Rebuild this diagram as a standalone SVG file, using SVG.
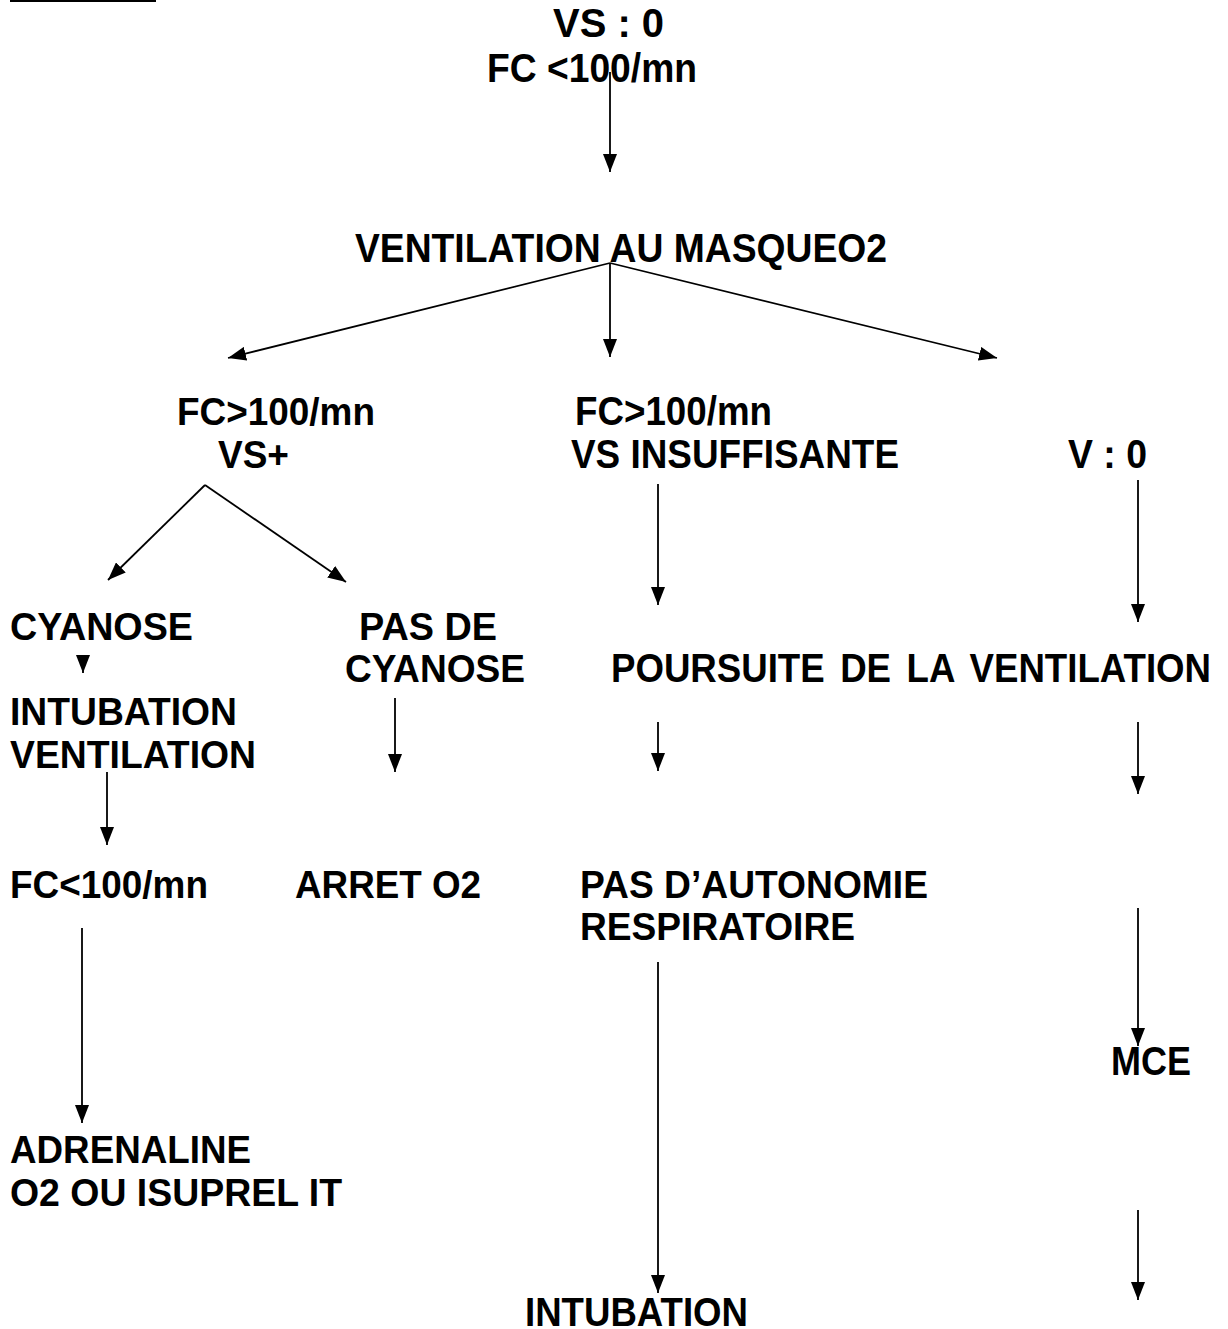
<svg xmlns="http://www.w3.org/2000/svg" width="1228" height="1329" viewBox="0 0 1228 1329">
<style>
  text { font-family: "Liberation Sans", Arial, sans-serif; font-weight: bold; fill: #000; }
  .n { font-size: 39px; }
  .c { font-size: 41px; }
  .ln { stroke: #000; stroke-width: 1.8; fill: none; marker-end: url(#ah); }
</style>
<defs>
  <marker id="ah" markerUnits="userSpaceOnUse" markerWidth="19" markerHeight="14" refX="18" refY="7" orient="auto">
    <path d="M0,0 L18,7 L0,14 z" fill="#000"/>
  </marker>
</defs>
<rect width="1228" height="1329" fill="#fff"/>
<rect x="10" y="0" width="146" height="2" fill="#000"/>

<g id="connectors">
  <line class="ln" x1="610" y1="72" x2="610" y2="172"/>
  <line class="ln" x1="610" y1="263" x2="228" y2="358"/>
  <line class="ln" x1="610" y1="263" x2="610" y2="357"/>
  <line class="ln" x1="610" y1="263" x2="997" y2="358"/>
  <line class="ln" x1="205" y1="485" x2="108" y2="580"/>
  <line class="ln" x1="205" y1="485" x2="346" y2="582"/>
  <line class="ln" x1="83" y1="655" x2="83" y2="673"/>
  <line class="ln" x1="107" y1="772" x2="107" y2="845"/>
  <line class="ln" x1="395" y1="698" x2="395" y2="772"/>
  <line class="ln" x1="658" y1="484" x2="658" y2="605"/>
  <line class="ln" x1="658" y1="722" x2="658" y2="771"/>
  <line class="ln" x1="1138" y1="480" x2="1138" y2="622"/>
  <line class="ln" x1="1138" y1="722" x2="1138" y2="794"/>
  <line class="ln" x1="82" y1="928" x2="82" y2="1123"/>
  <line class="ln" x1="658" y1="962" x2="658" y2="1293"/>
  <line class="ln" x1="1138" y1="908" x2="1138" y2="1046"/>
  <line class="ln" x1="1138" y1="1210" x2="1138" y2="1300"/>
</g>

<g id="n-top"><text class="c" x="553" y="37" textLength="111" lengthAdjust="spacingAndGlyphs">VS : 0</text>
<text class="c" x="487" y="82" textLength="210" lengthAdjust="spacingAndGlyphs">FC &lt;100/mn</text></g>
<g id="n-ventil"><text class="c" x="355" y="262" textLength="532" lengthAdjust="spacingAndGlyphs">VENTILATION AU MASQUEO2</text></g>
<g id="n-vsplus"><text class="n" x="177" y="425" textLength="198" lengthAdjust="spacingAndGlyphs">FC&gt;100/mn</text>
<text class="n" x="218" y="468" textLength="71" lengthAdjust="spacingAndGlyphs">VS+</text></g>
<g id="n-vsinsuf"><text class="c" x="575" y="425" textLength="197" lengthAdjust="spacingAndGlyphs">FC&gt;100/mn</text>
<text class="c" x="571" y="468" textLength="328" lengthAdjust="spacingAndGlyphs">VS INSUFFISANTE</text></g>
<g id="n-v0"><text class="c" x="1068" y="468" textLength="79" lengthAdjust="spacingAndGlyphs">V : 0</text></g>
<g id="n-cyanose"><text class="n" x="10" y="640" textLength="183" lengthAdjust="spacingAndGlyphs">CYANOSE</text></g>
<g id="n-pasdecyanose"><text class="n" x="359" y="640" textLength="138" lengthAdjust="spacingAndGlyphs">PAS DE</text>
<text class="n" x="345" y="682" textLength="180" lengthAdjust="spacingAndGlyphs">CYANOSE</text></g>
<g id="n-intubventil"><text class="n" x="10" y="725" textLength="227" lengthAdjust="spacingAndGlyphs">INTUBATION</text>
<text class="n" x="10" y="768" textLength="246" lengthAdjust="spacingAndGlyphs">VENTILATION</text></g>
<g id="n-poursuite"><text class="c" x="611" y="682" textLength="600" lengthAdjust="spacingAndGlyphs" word-spacing="6">POURSUITE DE LA VENTILATION</text></g>
<g id="n-fc100"><text class="n" x="10" y="898" textLength="198" lengthAdjust="spacingAndGlyphs">FC&lt;100/mn</text></g>
<g id="n-arret"><text class="n" x="295" y="898" textLength="186" lengthAdjust="spacingAndGlyphs">ARRET O2</text></g>
<g id="n-pasauto"><text class="n" x="580" y="898" textLength="348" lengthAdjust="spacingAndGlyphs">PAS D’AUTONOMIE</text>
<text class="n" x="580" y="940" textLength="275" lengthAdjust="spacingAndGlyphs">RESPIRATOIRE</text></g>
<g id="n-mce"><text class="c" x="1111" y="1075" textLength="80" lengthAdjust="spacingAndGlyphs">MCE</text></g>
<g id="n-adrenaline"><text class="n" x="10" y="1163" textLength="241" lengthAdjust="spacingAndGlyphs">ADRENALINE</text>
<text class="n" x="10" y="1206" textLength="332" lengthAdjust="spacingAndGlyphs">O2 OU ISUPREL IT</text></g>
<g id="n-intubation"><text class="c" x="525" y="1326" textLength="223" lengthAdjust="spacingAndGlyphs">INTUBATION</text></g>
</svg>
